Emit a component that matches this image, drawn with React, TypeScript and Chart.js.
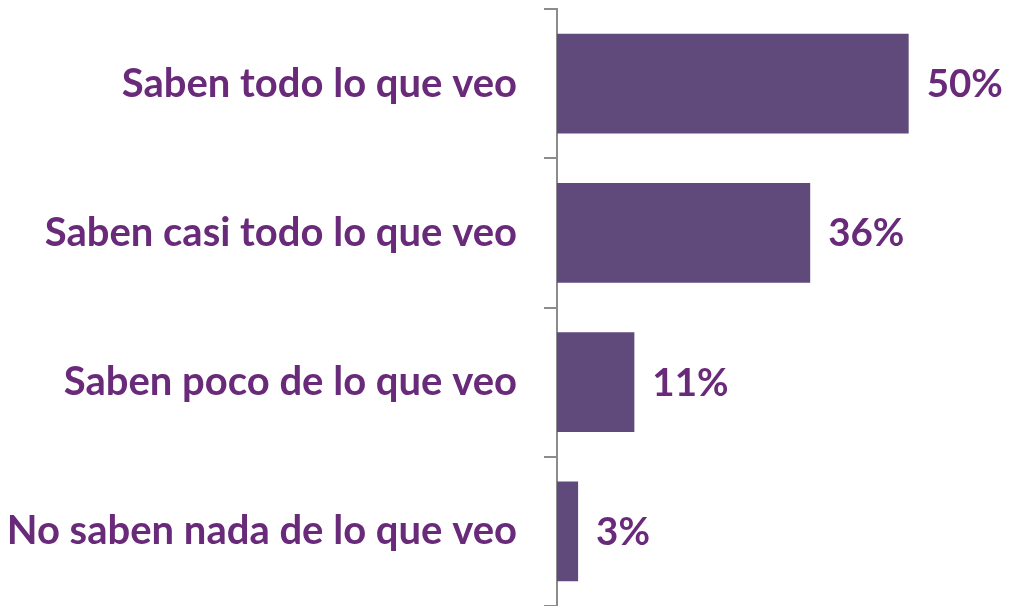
import { useEffect, useRef } from "react";
import { Chart, registerables } from "chart.js";

Chart.register(...registerables);

const categories = [
  "Saben todo lo que veo",
  "Saben casi todo lo que veo",
  "Saben poco de lo que veo",
  "No saben nada de lo que veo",
];
const values = [50, 36, 11, 3];
const valueLabels = ["50%", "36%", "11%", "3%"];

const LABEL_COLOR = "#6a2a7a";
const BAR_COLOR = "#604a7b";
const FONT_FAMILY = "Lato, 'Open Sans', sans-serif";
const FONT_SIZE = 40;
const VALUE_FONT_SIZE = 38.5;

export default function App() {
  const ref = useRef<HTMLCanvasElement | null>(null);

  useEffect(() => {
    if (!ref.current) return;
    const valuePlugin = {
      id: "valueLabels",
      afterDatasetsDraw(chart: any) {
        const ctx = chart.ctx;
        const meta = chart.getDatasetMeta(0);
        ctx.save();
        ctx.fillStyle = LABEL_COLOR;
        ctx.font = `bold ${VALUE_FONT_SIZE}px ${FONT_FAMILY}`;
        ctx.textAlign = "left";
        ctx.textBaseline = "middle";
        meta.data.forEach((bar: any, i: number) => {
          ctx.fillText(valueLabels[i], bar.x + 18, bar.y + 1);
        });
        ctx.restore();
      },
    };
    const chart = new Chart(ref.current, {
      type: "bar",
      data: {
        labels: categories,
        datasets: [
          {
            data: values,
            backgroundColor: BAR_COLOR,
            borderWidth: 0,
            barPercentage: 0.67,
            categoryPercentage: 1,
          },
        ],
      },
      options: {
        indexAxis: "y",
        animation: false,
        responsive: false,
        maintainAspectRatio: false,
        layout: { padding: { top: 9, right: 30, bottom: 0, left: 0 } },
        plugins: { legend: { display: false }, tooltip: { enabled: false } },
        scales: {
          x: { display: false, min: 0, max: 60 },
          y: {
            afterFit(scale: any) {
              scale.width = 557;
              scale.paddingTop = 0;
              scale.paddingBottom = 0;
            },
            border: { display: true, color: "#8c8c8c", width: 2 },
            grid: {
              drawOnChartArea: false,
              drawTicks: true,
              tickLength: 13,
              color: "#8c8c8c",
              lineWidth: 2,
              offset: true,
            },
            ticks: {
              color: LABEL_COLOR,
              padding: 27,
              font: { family: FONT_FAMILY, size: FONT_SIZE, weight: "bold" },
            },
          },
        },
      },
      plugins: [valuePlugin],
    });
    return () => chart.destroy();
  }, []);

  return (
    <div style={{ position: "fixed", left: 0, top: 0, width: 1009, height: 606, background: "#fff" }}>
      <canvas ref={ref} width={1009} height={606} style={{ display: "block" }} />
    </div>
  );
}
